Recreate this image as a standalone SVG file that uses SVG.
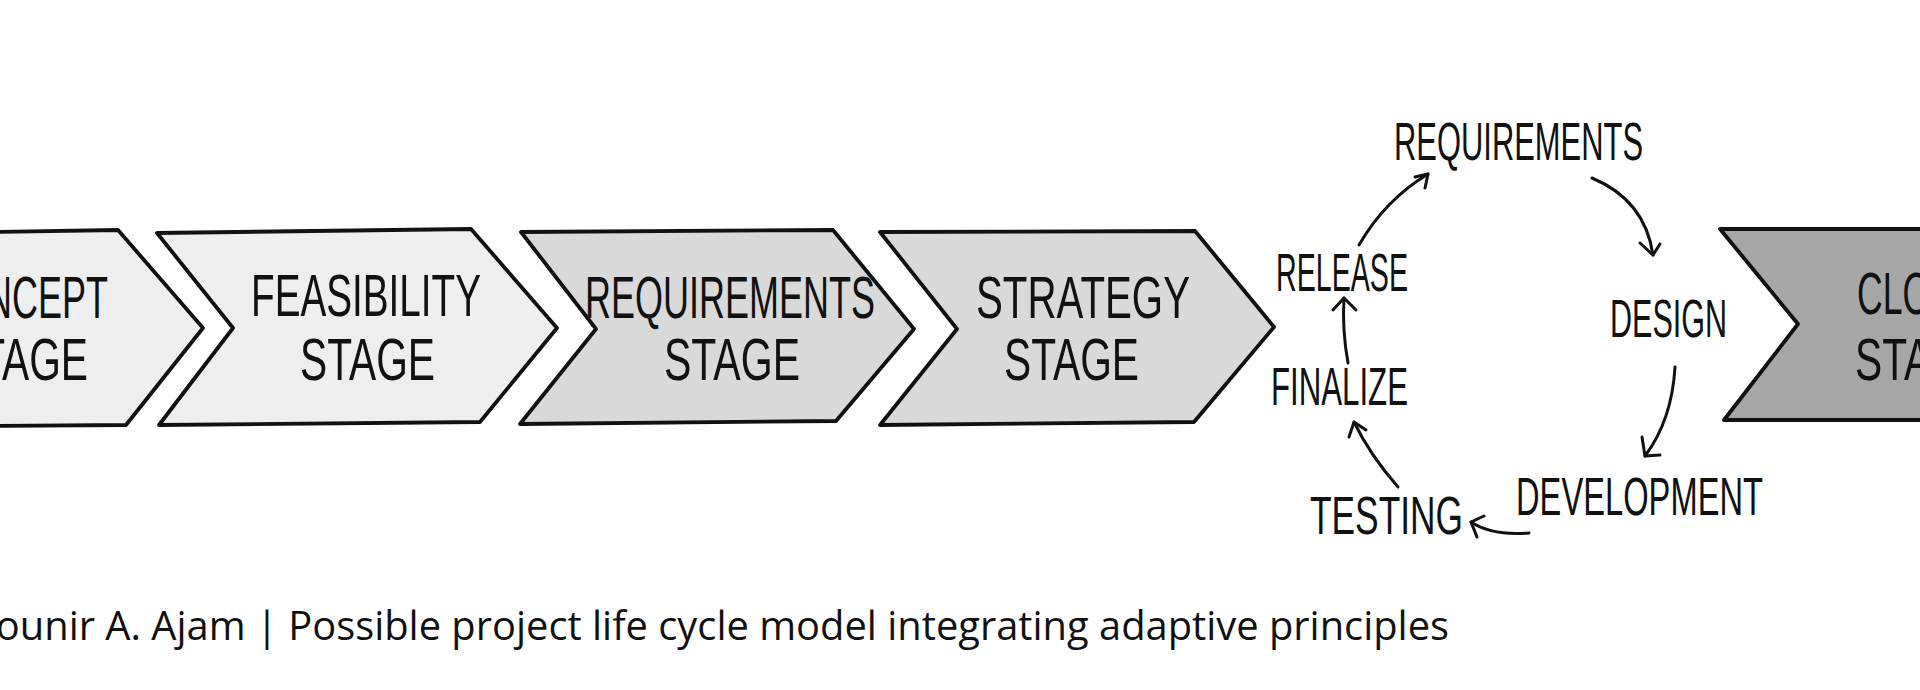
<svg xmlns="http://www.w3.org/2000/svg" width="1920" height="690" viewBox="0 0 1920 690">
<defs>
<style>
.chev{stroke:#111;stroke-width:3.8;stroke-linejoin:round}
.light{fill:#efeeef}
.mid{fill:#d9d9d9}
.dark{fill:#a6a6a6}
.hand{font-family:"Liberation Sans",Arial,sans-serif;fill:#111;font-size:60px}
.lab{font-family:"Liberation Sans",Arial,sans-serif;fill:#111;font-size:53px}
.arr{fill:none;stroke:#111;stroke-width:3;stroke-linecap:round;stroke-linejoin:round}
.cap{font-family:"Open Sans","Noto Sans",sans-serif;fill:#111;font-size:40px}
</style>
</defs>
<rect width="1920" height="690" fill="#ffffff"/>

<g id="concept">
<polygon class="chev light" points="-10,232 118,230 203,328 126,425 -10,426"/>
<text class="hand" x="-68" y="318" textLength="176" lengthAdjust="spacingAndGlyphs">CONCEPT</text>
<text class="hand" x="-47" y="380" textLength="135" lengthAdjust="spacingAndGlyphs">STAGE</text>
</g>

<g id="feasibility">
<polygon class="chev light" points="157,233 471,229 557,328 480,422 159,425 233,328"/>
<text class="hand" x="251" y="316" textLength="230" lengthAdjust="spacingAndGlyphs">FEASIBILITY</text>
<text class="hand" x="300" y="380" textLength="135" lengthAdjust="spacingAndGlyphs">STAGE</text>
</g>

<g id="requirements-stage">
<polygon class="chev mid" points="521,232 833,230 914,329 836,421 520,424 596,329"/>
<text class="hand" x="585" y="318" textLength="290" lengthAdjust="spacingAndGlyphs">REQUIREMENTS</text>
<text class="hand" x="664" y="380" textLength="136" lengthAdjust="spacingAndGlyphs">STAGE</text>
</g>

<g id="strategy">
<polygon class="chev mid" points="880,232 1195,231 1274,327 1194,422 880,425 957,329"/>
<text class="hand" x="976" y="318" textLength="214" lengthAdjust="spacingAndGlyphs">STRATEGY</text>
<text class="hand" x="1004" y="380" textLength="135" lengthAdjust="spacingAndGlyphs">STAGE</text>
</g>

<g id="closure">
<polygon class="chev dark" points="1720,229 1935,229 1935,420 1724,420 1798,324"/>
<text class="hand" x="1857" y="314" textLength="172" lengthAdjust="spacingAndGlyphs">CLOSURE</text>
<text class="hand" x="1855" y="380" textLength="135" lengthAdjust="spacingAndGlyphs">STAGE</text>
</g>

<g id="cycle-requirements"><text class="lab" x="1394" y="160" textLength="249" lengthAdjust="spacingAndGlyphs">REQUIREMENTS</text></g>
<g id="cycle-design"><text class="lab" x="1610" y="337" textLength="117" lengthAdjust="spacingAndGlyphs">DESIGN</text></g>
<g id="cycle-development"><text class="lab" x="1516" y="515" textLength="247" lengthAdjust="spacingAndGlyphs">DEVELOPMENT</text></g>
<g id="cycle-testing"><text class="lab" x="1310" y="534" textLength="153" lengthAdjust="spacingAndGlyphs">TESTING</text></g>
<g id="cycle-finalize"><text class="lab" x="1271" y="405" textLength="137" lengthAdjust="spacingAndGlyphs">FINALIZE</text></g>
<g id="cycle-release"><text class="lab" x="1276" y="291" textLength="132" lengthAdjust="spacingAndGlyphs">RELEASE</text></g>

<g id="connectors">
<path class="arr" d="M1359,245 Q1385,200 1428,174"/>
<path class="arr" d="M1415,177 L1428,174 L1425,188"/>
<path class="arr" d="M1592,178 Q1645,200 1653,255"/>
<path class="arr" d="M1640,243 L1653,255 L1660,244"/>
<path class="arr" d="M1675,367 Q1672,420 1645,456"/>
<path class="arr" d="M1642,437 L1645,456 L1660,455"/>
<path class="arr" d="M1529,533 Q1492,536 1471,522"/>
<path class="arr" d="M1484,516 L1471,522 L1477,537"/>
<path class="arr" d="M1398,487 Q1370,455 1354,422"/>
<path class="arr" d="M1349,437 L1354,422 L1366,430"/>
<path class="arr" d="M1348,363 Q1342,330 1344,298"/>
<path class="arr" d="M1333,310 L1344,298 L1356,310"/>
</g>

<g id="caption">
<text class="cap" x="-40" y="640" textLength="1489" lengthAdjust="spacingAndGlyphs">Mounir A. Ajam | Possible project life cycle model integrating adaptive principles</text>
</g>
</svg>
